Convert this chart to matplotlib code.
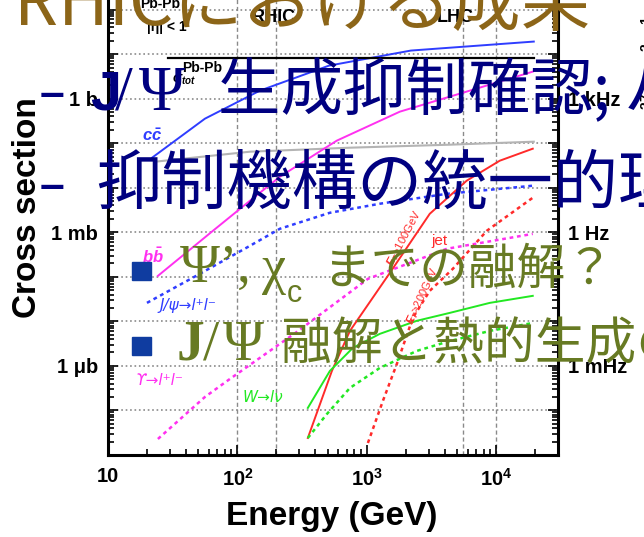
import numpy as np
import matplotlib
matplotlib.use('Agg')
import matplotlib.pyplot as plt
from matplotlib.patches import Rectangle
from matplotlib.ticker import LogLocator, FuncFormatter, NullFormatter

plt.rcParams['font.family'] = ['Liberation Sans', 'DejaVu Sans']
plt.rcParams['font.weight'] = 'bold'
plt.rcParams['mathtext.fontset'] = 'custom'
plt.rcParams['mathtext.rm'] = 'Liberation Sans:bold'
plt.rcParams['mathtext.it'] = 'Liberation Sans:italic:bold'
plt.rcParams['mathtext.bf'] = 'Liberation Sans:bold'

# sqrt(s) [GeV] vs cross section [barn], Pb-Pb, |eta| < 1
cc_energy = [21.9, 56.1, 149, 509, 2188, 19500]
cc_xsec = [0.0472, 0.355, 1.51, 5.5, 12.0, 19.1]

bb_energy = [24.3, 64.7, 125, 213, 586, 1799, 6240, 19150]
bb_xsec = [1.05e-4, 1.08e-3, 5.1e-3, 0.0177, 0.114, 0.51, 1.51, 4.04]

tot_energy = [29, 19500]
tot_xsec = [8.1, 8.1]

gray_energy = [23.1, 125, 740, 4375, 19500]
gray_xsec = [0.0384, 0.0644, 0.0792, 0.0925, 0.108]

jpsi_energy = [20.0, 51.3, 125, 213, 518, 1259, 4150, 19150]
jpsi_xsec = [2.6e-5, 1.17e-4, 4.97e-4, 1.2e-3, 2.74e-3, 4.37e-3, 7.3e-3, 0.0111]

ups_energy = [24.3, 56.1, 87.5, 288, 1019, 4150, 19150]
ups_xsec = [2.29e-8, 2.01e-7, 5.1e-7, 5.8e-6, 9.0e-5, 4.26e-4, 9.2e-4]

jet100_energy = [350, 537, 740, 1452, 3064, 5913, 10640, 19150]
jet100_xsec = [2.41e-8, 7.7e-7, 6.1e-6, 1.05e-4, 2.6e-3, 0.0144, 0.0404, 0.0752]

jet200_energy = [1019, 1330, 1706, 2267, 3064, 4616, 8450, 19150]
jet200_xsec = [1.86e-8, 1.63e-7, 1.11e-6, 1.2e-5, 4.85e-5, 1.51e-4, 1.08e-3, 5.96e-3]

w_energy = [350, 518, 780, 1259, 2432, 4375, 8910, 19150]
w_xsec = [1.14e-7, 7.7e-7, 2.54e-6, 5.24e-6, 1.03e-5, 1.55e-5, 2.6e-5, 3.74e-5]

wdot_energy = [350, 491, 740, 1259, 2432, 4150, 8910, 19150]
wdot_xsec = [2.41e-8, 8.3e-8, 3.2e-7, 9.0e-7, 2.17e-6, 3.46e-6, 6.1e-6, 9.2e-6]

band_edges = [100, 200, 5500, 10000]   # RHIC / LHC energies

x_tick_vals = [10, 1e2, 1e3, 1e4]
x_tick_txt = ['10', r'$10^{2}$', r'$10^{3}$', r'$10^{4}$']
y_label_vals = [1.0, 1e-3, 1e-6]
y_label_txt = ['1 b', '1 mb', '1 \u03bcb']
rate_label_txt = ['1 kHz', '1 Hz', '1 mHz']

W, H = 644, 537
navy = '#000080'
olive = '#677A23'
brown = '#8C6518'
sq_blue = '#0F3CA0'
blue = '#2f3dff'
magenta = '#ff30f0'
red = '#ff2a2a'
green = '#22e822'
cjk = ['Noto Sans CJK JP', 'DejaVu Sans']
serif = ['Liberation Serif', 'DejaVu Serif']
dotted = (0, (1.5, 1.5))


def label_fmt(vals, txt):
    def f(v, pos):
        for val, t in zip(vals, txt):
            if np.isclose(v, val):
                return t
        return ''
    return FuncFormatter(f)


fig = plt.figure(figsize=(W / 100, H / 100), dpi=100)
ax = fig.add_axes([108 / W, 1 - 455 / H, 450 / W, 490 / H])
ax.set_xscale('log')
ax.set_yscale('log')
ax.set_xlim(10, 3e4)
ax.set_ylim(1e-8, 1e3)

ax.plot(cc_energy, cc_xsec, color=blue, lw=1.4)
ax.plot(tot_energy, tot_xsec, color='black', lw=1.6)
ax.plot(gray_energy, gray_xsec, color='#b4b4b4', lw=1.5)
ax.plot(bb_energy, bb_xsec, color=magenta, lw=1.4)
ax.plot(jpsi_energy, jpsi_xsec, color=blue, lw=1.8, ls=dotted)
ax.plot(ups_energy, ups_xsec, color=magenta, lw=1.8, ls=dotted)
ax.plot(jet100_energy, jet100_xsec, color=red, lw=1.4)
ax.plot(jet200_energy, jet200_xsec, color=red, lw=1.8, ls=dotted)
ax.plot(w_energy, w_xsec, color=green, lw=1.4)
ax.plot(wdot_energy, wdot_xsec, color=green, lw=1.8, ls=dotted)

for e in band_edges:
    ax.axvline(e, color='#8a8a8a', lw=1.0, ls=(0, (3, 2)), zorder=0.5)
ax.grid(axis='y', which='major', color='#8a8a8a', lw=1.2, ls=':')

# curve labels
ax.text(18.3, 0.148, r'$c\bar{c}$', color=blue, fontsize=12, va='center')
ax.text(18.3, 2.96e-4, r'$b\bar{b}$', color=magenta, fontsize=12, va='center')
ax.text(25.2, 2.23e-5, 'J/\u03c8\u2192l\u207al\u207b', color=blue, fontsize=11, va='center',
        family=['DejaVu Sans'], style='italic', fontweight='normal')
ax.text(16.2, 4.6e-7, '\u03d2\u2192l\u207al\u207b', color=magenta, fontsize=11, va='center',
        family=['DejaVu Sans'], style='italic', fontweight='normal')
ax.text(110, 1.91e-7, 'W\u2192l\u03bd', color=green, fontsize=11, va='center',
        family=['DejaVu Sans'], style='italic', fontweight='normal')
ax.text(3664, 6.4e-4, 'jet', color=red, fontsize=11, fontweight='normal', ha='center', va='center')
ax.text(1963, 7.1e-4, r'$E_T$>100GeV', color=red, fontsize=8, fontweight='normal',
        rotation=62, rotation_mode='anchor', ha='center', va='center')
ax.text(2704, 3.74e-5, r'$E_T$>200GeV', color=red, fontsize=8, fontweight='normal',
        rotation=65, rotation_mode='anchor', ha='center', va='center')
ax.text(37.3, 4.97, 'Pb-Pb', fontsize=10, va='center')
ax.text(31.2, 2.67, r'$\sigma_{tot}$', fontsize=10, va='center')
ax.text(17.7, 136, 'Pb-Pb', fontsize=10, va='center')
ax.text(20.0, 41.5, '|\u03b7| < 1', fontsize=10, va='center')
ax.text(191, 66, 'RHIC', fontsize=13, ha='center', va='center')
ax.text(4860, 66, 'LHC', fontsize=13, ha='center', va='center')

# axes, ticks
ax.set_xticks(x_tick_vals, labels=x_tick_txt)
ax.xaxis.set_minor_locator(LogLocator(base=10, subs=np.arange(2, 10), numticks=20))
ax.xaxis.set_minor_formatter(NullFormatter())
ax.yaxis.set_major_locator(LogLocator(base=10, numticks=30))
ax.yaxis.set_minor_locator(LogLocator(base=10, subs=np.arange(2, 10), numticks=30))
ax.yaxis.set_major_formatter(label_fmt(y_label_vals, y_label_txt))
ax.yaxis.set_minor_formatter(NullFormatter())
ax.tick_params(which='both', direction='in', width=1.2, labelsize=14.5)
ax.tick_params(which='major', length=7)
ax.tick_params(which='minor', length=4)
ax.tick_params(axis='x', pad=9)
ax.tick_params(axis='y', pad=7)
for s in ax.spines.values():
    s.set_linewidth(2.2)

ax2 = ax.twinx()
ax2.set_yscale('log')
ax2.set_ylim(ax.get_ylim())
ax2.yaxis.set_major_locator(LogLocator(base=10, numticks=30))
ax2.yaxis.set_minor_locator(LogLocator(base=10, subs=np.arange(2, 10), numticks=30))
ax2.yaxis.set_major_formatter(label_fmt(y_label_vals, rate_label_txt))
ax2.yaxis.set_minor_formatter(NullFormatter())
ax2.tick_params(which='both', direction='in', width=1.2, labelsize=14.5, pad=7)
ax2.tick_params(which='major', length=7)
ax2.tick_params(which='minor', length=4)

ax.set_xlabel('Energy (GeV)', fontsize=24, fontweight='bold')
ax.xaxis.set_label_coords(0.498, -0.1265)
ax.xaxis.label.set_va('center')
ax.set_ylabel('Cross section', fontsize=24, fontweight='bold')
ax.yaxis.set_label_coords(-0.18, 0.504)
ax.yaxis.label.set_va('center')

fig.text(651 / W, 1 - 90 / H, r'L = 10$^{27}$ cm$^{-2}$s$^{-1}$', rotation=90,
         ha='center', va='center', fontsize=14)


# slide text drawn over the figure
def put(x, y, s, **kw):
    fig.text(x / W, 1 - y / H, s, ha='left', va='baseline', zorder=10, **kw)


put(14, 25, 'RHICにおける成果', color=brown, fontsize=50, family=cjk, fontweight='normal')

put(40, 107, '\u2013', color=navy, fontsize=32, family=['Liberation Sans'])
put(90, 110, 'J', color=navy, fontsize=40, family=['Liberation Sans'])
put(115, 110, '/', color=navy, fontsize=46, family=serif, fontweight='normal')
put(139, 110, '\u03a8', color=navy, fontsize=45, family=serif, fontweight='normal')
put(218, 110, '生成抑制確認; パターン', color=navy, fontsize=45, family=cjk, fontweight='normal')

put(40, 199, '\u2013', color=navy, fontsize=32, family=['Liberation Sans'])
put(96, 204, '抑制機構の統一的理解', color=navy, fontsize=47, family=cjk, fontweight='normal')

for top in (262, 337):
    fig.add_artist(Rectangle((132 / W, 1 - (top + 18) / H), 18.5 / W, 18 / H,
                             transform=fig.transFigure, color=sq_blue, zorder=10))

put(180, 282, '\u03a8\u2019,', color=olive, fontsize=39, family=serif, fontweight='normal')
put(262, 283, '\u03c7', color=olive, fontsize=39, family=serif, fontweight='normal')
put(287, 302, 'c', color=olive, fontsize=22, family=['Liberation Sans'], fontweight='normal')
put(322, 284, 'までの融解？', color=olive, fontsize=35, family=cjk, fontweight='normal')

put(177, 360, 'J', color=olive, fontsize=40, family=serif, fontweight='bold')
put(203, 360, '/', color=olive, fontsize=42, family=serif, fontweight='normal')
put(223, 360, '\u03a8', color=olive, fontsize=40, family=serif, fontweight='normal')
put(281, 359, '融解と熱的生成の区別', color=olive, fontsize=36.5, family=cjk, fontweight='normal')

fig.savefig('out.png', dpi=100)
